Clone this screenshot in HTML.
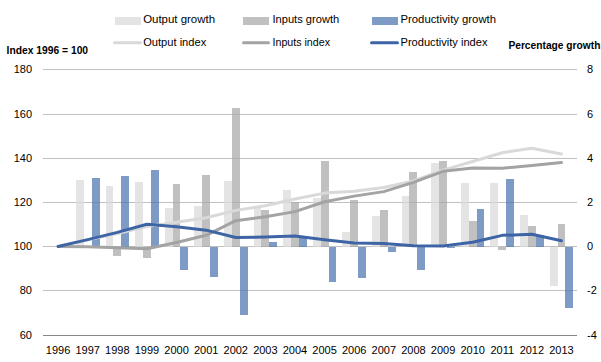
<!DOCTYPE html>
<html><head><meta charset="utf-8"><style>
html,body{margin:0;padding:0;background:#fff;width:601px;height:362px;overflow:hidden}
svg{display:block}
text{font-family:"Liberation Sans",sans-serif}
</style></head><body>
<svg width="601" height="362" viewBox="0 0 601 362">
<rect width="601" height="362" fill="#fff"/>
<rect x="43" y="69" width="534" height="1" fill="#c0c0c0"/>
<rect x="43" y="114" width="534" height="1" fill="#c0c0c0"/>
<rect x="43" y="158" width="534" height="1" fill="#c0c0c0"/>
<rect x="43" y="202" width="534" height="1" fill="#c0c0c0"/>
<rect x="43" y="246" width="534" height="1" fill="#c0c0c0"/>
<rect x="43" y="290" width="534" height="1" fill="#c0c0c0"/>
<rect x="43" y="335" width="534" height="1" fill="#868686"/>
<rect x="76" y="180" width="8" height="67" fill="#dadada" fill-opacity="0.72"/>
<rect x="84" y="247" width="8" height="1" fill="#a8a8a8" fill-opacity="0.72"/>
<rect x="92" y="178" width="8" height="69" fill="#4c74b0" fill-opacity="0.72"/>
<rect x="106" y="186" width="7" height="61" fill="#dadada" fill-opacity="0.72"/>
<rect x="113" y="247" width="8" height="9" fill="#a8a8a8" fill-opacity="0.72"/>
<rect x="121" y="176" width="8" height="71" fill="#4c74b0" fill-opacity="0.72"/>
<rect x="135" y="182" width="8" height="65" fill="#dadada" fill-opacity="0.72"/>
<rect x="143" y="247" width="8" height="11" fill="#a8a8a8" fill-opacity="0.72"/>
<rect x="151" y="170" width="8" height="77" fill="#4c74b0" fill-opacity="0.72"/>
<rect x="165" y="208" width="8" height="39" fill="#dadada" fill-opacity="0.72"/>
<rect x="173" y="184" width="7" height="63" fill="#a8a8a8" fill-opacity="0.72"/>
<rect x="180" y="247" width="8" height="23" fill="#4c74b0" fill-opacity="0.72"/>
<rect x="194" y="206" width="8" height="41" fill="#dadada" fill-opacity="0.72"/>
<rect x="202" y="175" width="8" height="72" fill="#a8a8a8" fill-opacity="0.72"/>
<rect x="210" y="247" width="8" height="30" fill="#4c74b0" fill-opacity="0.72"/>
<rect x="224" y="181" width="8" height="66" fill="#dadada" fill-opacity="0.72"/>
<rect x="232" y="108" width="8" height="139" fill="#a8a8a8" fill-opacity="0.72"/>
<rect x="240" y="247" width="8" height="68" fill="#4c74b0" fill-opacity="0.72"/>
<rect x="254" y="207" width="7" height="40" fill="#dadada" fill-opacity="0.72"/>
<rect x="261" y="210" width="8" height="37" fill="#a8a8a8" fill-opacity="0.72"/>
<rect x="269" y="242" width="8" height="5" fill="#4c74b0" fill-opacity="0.72"/>
<rect x="283" y="190" width="8" height="57" fill="#dadada" fill-opacity="0.72"/>
<rect x="291" y="202" width="8" height="45" fill="#a8a8a8" fill-opacity="0.72"/>
<rect x="299" y="236" width="8" height="11" fill="#4c74b0" fill-opacity="0.72"/>
<rect x="313" y="198" width="8" height="49" fill="#dadada" fill-opacity="0.72"/>
<rect x="321" y="161" width="8" height="86" fill="#a8a8a8" fill-opacity="0.72"/>
<rect x="329" y="247" width="7" height="35" fill="#4c74b0" fill-opacity="0.72"/>
<rect x="342" y="232" width="8" height="15" fill="#dadada" fill-opacity="0.72"/>
<rect x="350" y="200" width="8" height="47" fill="#a8a8a8" fill-opacity="0.72"/>
<rect x="358" y="247" width="8" height="31" fill="#4c74b0" fill-opacity="0.72"/>
<rect x="372" y="216" width="8" height="31" fill="#dadada" fill-opacity="0.72"/>
<rect x="380" y="210" width="8" height="37" fill="#a8a8a8" fill-opacity="0.72"/>
<rect x="388" y="247" width="8" height="5" fill="#4c74b0" fill-opacity="0.72"/>
<rect x="402" y="196" width="7" height="51" fill="#dadada" fill-opacity="0.72"/>
<rect x="409" y="172" width="8" height="75" fill="#a8a8a8" fill-opacity="0.72"/>
<rect x="417" y="247" width="8" height="23" fill="#4c74b0" fill-opacity="0.72"/>
<rect x="431" y="163" width="8" height="84" fill="#dadada" fill-opacity="0.72"/>
<rect x="439" y="161" width="8" height="86" fill="#a8a8a8" fill-opacity="0.72"/>
<rect x="447" y="247" width="8" height="1" fill="#4c74b0" fill-opacity="0.72"/>
<rect x="461" y="183" width="8" height="64" fill="#dadada" fill-opacity="0.72"/>
<rect x="469" y="221" width="8" height="26" fill="#a8a8a8" fill-opacity="0.72"/>
<rect x="477" y="209" width="7" height="38" fill="#4c74b0" fill-opacity="0.72"/>
<rect x="490" y="183" width="8" height="64" fill="#dadada" fill-opacity="0.72"/>
<rect x="498" y="247" width="8" height="3" fill="#a8a8a8" fill-opacity="0.72"/>
<rect x="506" y="179" width="8" height="68" fill="#4c74b0" fill-opacity="0.72"/>
<rect x="520" y="215" width="8" height="32" fill="#dadada" fill-opacity="0.72"/>
<rect x="528" y="226" width="8" height="21" fill="#a8a8a8" fill-opacity="0.72"/>
<rect x="536" y="235" width="8" height="12" fill="#4c74b0" fill-opacity="0.72"/>
<rect x="550" y="247" width="8" height="39" fill="#dadada" fill-opacity="0.72"/>
<rect x="558" y="224" width="7" height="23" fill="#a8a8a8" fill-opacity="0.72"/>
<rect x="565" y="247" width="8" height="61" fill="#4c74b0" fill-opacity="0.72"/>
<path d="M58.10,246.50 L87.72,239.78 L117.33,233.46 L146.94,226.57 L176.55,222.33 L206.15,217.81 L235.76,210.36 L265.38,205.79 L294.99,199.04 L324.60,193.10 L354.20,191.29 L383.81,187.47 L413.43,181.02 L443.04,170.11 L472.64,161.52 L502.25,152.69 L531.87,148.18 L561.47,153.91" fill="none" stroke="#d9d9d9" stroke-width="3" stroke-linecap="round" stroke-linejoin="round"/>
<path d="M58.10,246.50 L87.72,246.70 L117.33,247.63 L146.94,248.73 L176.55,242.57 L206.15,235.28 L235.76,220.72 L265.38,216.67 L294.99,211.61 L324.60,201.71 L354.20,196.11 L383.81,191.62 L413.43,182.33 L443.04,171.30 L472.64,167.91 L502.25,168.33 L531.87,165.60 L561.47,162.52" fill="none" stroke="#a3a3a3" stroke-width="3" stroke-linecap="round" stroke-linejoin="round"/>
<path d="M58.10,246.50 L87.72,239.65 L117.33,232.38 L146.94,224.25 L176.55,226.83 L206.15,230.16 L235.76,237.52 L265.38,237.08 L294.99,236.02 L324.60,239.71 L354.20,242.95 L383.81,243.47 L413.43,245.85 L443.04,245.96 L472.64,242.21 L502.25,235.36 L531.87,234.20 L561.47,240.68" fill="none" stroke="#3d65a6" stroke-width="3" stroke-linecap="round" stroke-linejoin="round"/>
<text x="32" y="72.6" text-anchor="end" font-size="11" font-family="Liberation Sans, sans-serif" fill="#000000">180</text>
<text x="32" y="117.6" text-anchor="end" font-size="11" font-family="Liberation Sans, sans-serif" fill="#000000">160</text>
<text x="32" y="161.6" text-anchor="end" font-size="11" font-family="Liberation Sans, sans-serif" fill="#000000">140</text>
<text x="32" y="205.6" text-anchor="end" font-size="11" font-family="Liberation Sans, sans-serif" fill="#000000">120</text>
<text x="32" y="249.6" text-anchor="end" font-size="11" font-family="Liberation Sans, sans-serif" fill="#000000">100</text>
<text x="32" y="293.6" text-anchor="end" font-size="11" font-family="Liberation Sans, sans-serif" fill="#000000">80</text>
<text x="32" y="338.6" text-anchor="end" font-size="11" font-family="Liberation Sans, sans-serif" fill="#000000">60</text>
<text x="587" y="72.6" font-size="11" font-family="Liberation Sans, sans-serif" fill="#000000">8</text>
<text x="587" y="117.6" font-size="11" font-family="Liberation Sans, sans-serif" fill="#000000">6</text>
<text x="587" y="161.6" font-size="11" font-family="Liberation Sans, sans-serif" fill="#000000">4</text>
<text x="587" y="205.6" font-size="11" font-family="Liberation Sans, sans-serif" fill="#000000">2</text>
<text x="587" y="249.6" font-size="11" font-family="Liberation Sans, sans-serif" fill="#000000">0</text>
<text x="587" y="293.6" font-size="11" font-family="Liberation Sans, sans-serif" fill="#000000">-2</text>
<text x="587" y="338.6" font-size="11" font-family="Liberation Sans, sans-serif" fill="#000000">-4</text>
<text x="58.10" y="354" text-anchor="middle" font-size="11" font-family="Liberation Sans, sans-serif" fill="#000000">1996</text>
<text x="87.72" y="354" text-anchor="middle" font-size="11" font-family="Liberation Sans, sans-serif" fill="#000000">1997</text>
<text x="117.33" y="354" text-anchor="middle" font-size="11" font-family="Liberation Sans, sans-serif" fill="#000000">1998</text>
<text x="146.94" y="354" text-anchor="middle" font-size="11" font-family="Liberation Sans, sans-serif" fill="#000000">1999</text>
<text x="176.55" y="354" text-anchor="middle" font-size="11" font-family="Liberation Sans, sans-serif" fill="#000000">2000</text>
<text x="206.15" y="354" text-anchor="middle" font-size="11" font-family="Liberation Sans, sans-serif" fill="#000000">2001</text>
<text x="235.76" y="354" text-anchor="middle" font-size="11" font-family="Liberation Sans, sans-serif" fill="#000000">2002</text>
<text x="265.38" y="354" text-anchor="middle" font-size="11" font-family="Liberation Sans, sans-serif" fill="#000000">2003</text>
<text x="294.99" y="354" text-anchor="middle" font-size="11" font-family="Liberation Sans, sans-serif" fill="#000000">2004</text>
<text x="324.60" y="354" text-anchor="middle" font-size="11" font-family="Liberation Sans, sans-serif" fill="#000000">2005</text>
<text x="354.20" y="354" text-anchor="middle" font-size="11" font-family="Liberation Sans, sans-serif" fill="#000000">2006</text>
<text x="383.81" y="354" text-anchor="middle" font-size="11" font-family="Liberation Sans, sans-serif" fill="#000000">2007</text>
<text x="413.43" y="354" text-anchor="middle" font-size="11" font-family="Liberation Sans, sans-serif" fill="#000000">2008</text>
<text x="443.04" y="354" text-anchor="middle" font-size="11" font-family="Liberation Sans, sans-serif" fill="#000000">2009</text>
<text x="472.64" y="354" text-anchor="middle" font-size="11" font-family="Liberation Sans, sans-serif" fill="#000000">2010</text>
<text x="502.25" y="354" text-anchor="middle" font-size="11" font-family="Liberation Sans, sans-serif" fill="#000000">2011</text>
<text x="531.87" y="354" text-anchor="middle" font-size="11" font-family="Liberation Sans, sans-serif" fill="#000000">2012</text>
<text x="561.47" y="354" text-anchor="middle" font-size="11" font-family="Liberation Sans, sans-serif" fill="#000000">2013</text>
<text x="6.6" y="53.6" font-size="11" font-weight="bold" font-family="Liberation Sans, sans-serif" fill="#000000" textLength="81.5" lengthAdjust="spacingAndGlyphs">Index 1996 = 100</text>
<text x="508.4" y="48.8" font-size="11" font-weight="bold" font-family="Liberation Sans, sans-serif" fill="#000000" textLength="92" lengthAdjust="spacingAndGlyphs">Percentage growth</text>
<rect x="115" y="17" width="26" height="8" fill="#dadada" fill-opacity="0.72"/>
<text x="143.2" y="23" font-size="11" font-family="Liberation Sans, sans-serif" fill="#000000" textLength="71.8" lengthAdjust="spacingAndGlyphs">Output growth</text>
<rect x="243" y="17" width="26" height="8" fill="#a8a8a8" fill-opacity="0.72"/>
<text x="272.5" y="23" font-size="11" font-family="Liberation Sans, sans-serif" fill="#000000" textLength="66.7" lengthAdjust="spacingAndGlyphs">Inputs growth</text>
<rect x="372" y="17" width="26" height="8" fill="#4c74b0" fill-opacity="0.72"/>
<text x="400.5" y="23" font-size="11" font-family="Liberation Sans, sans-serif" fill="#000000" textLength="95.5" lengthAdjust="spacingAndGlyphs">Productivity growth</text>
<line x1="114.5" y1="42.7" x2="140.5" y2="42.7" stroke="#d9d9d9" stroke-width="3" stroke-linecap="round"/>
<text x="143.2" y="46.2" font-size="11" font-family="Liberation Sans, sans-serif" fill="#000000" textLength="63.0" lengthAdjust="spacingAndGlyphs">Output index</text>
<line x1="243.5" y1="42.7" x2="268.5" y2="42.7" stroke="#a3a3a3" stroke-width="3" stroke-linecap="round"/>
<text x="272.5" y="46.2" font-size="11" font-family="Liberation Sans, sans-serif" fill="#000000" textLength="57.5" lengthAdjust="spacingAndGlyphs">Inputs index</text>
<line x1="371.5" y1="42.7" x2="397.5" y2="42.7" stroke="#3d65a6" stroke-width="3" stroke-linecap="round"/>
<text x="400.5" y="46.2" font-size="11" font-family="Liberation Sans, sans-serif" fill="#000000" textLength="87.0" lengthAdjust="spacingAndGlyphs">Productivity index</text>
</svg>
</body></html>
